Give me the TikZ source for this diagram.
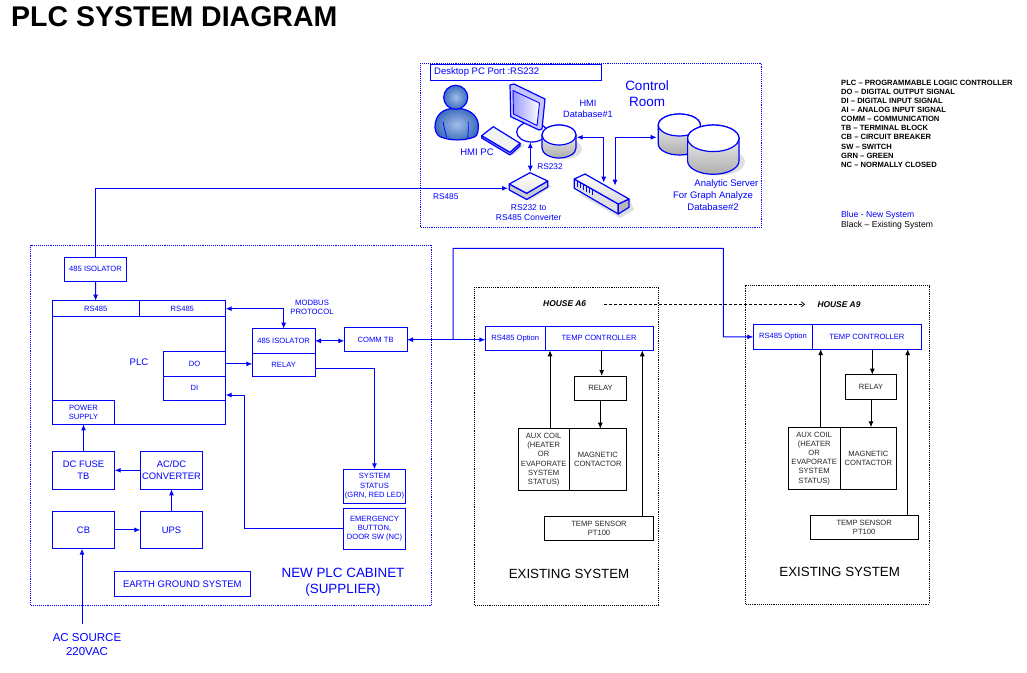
\documentclass[tikz,border=0pt]{standalone}
\usepackage{fontspec}
\setmainfont{Liberation Sans}
\usetikzlibrary{arrows.meta,calc}
\newcommand{\fs}[2]{\fontsize{#1}{#2}\selectfont}
\definecolor{personedge}{RGB}{62,108,190}
\definecolor{personmid}{RGB}{160,190,230}
\tikzset{
  bluebox/.style={draw=blue,line width=1pt,text=blue,inner sep=0pt,outer sep=0pt,align=center,font=\fs{7.6}{9.2}},
  blackbox/.style={draw=black,line width=1pt,text=black!85,inner sep=0pt,outer sep=0pt,align=center,font=\fs{7.6}{9.2}},
  bigtext/.style={font=\fs{9.4}{11.5}},
  bluelab/.style={text=blue,inner sep=0pt,align=center,font=\fs{8}{9.5}},
  blacklab/.style={text=black,inner sep=0pt,align=center},
  legendlab/.style={text=black,inner sep=0pt,anchor=west,font=\fs{7.6}{9}\bfseries},
  blueline/.style={draw=blue,line width=1pt},
  blackline/.style={draw=black,line width=1pt},
  tip/.style={-{Latex[length=6pt,width=5pt]}},
  tips/.style={{Latex[length=6pt,width=5pt]}-{Latex[length=6pt,width=5pt]}},
  dotframe/.style={densely dotted,line width=.9pt},
  iconline/.style={draw=blue,line width=1.2pt,line join=round},
  shadowfill/.style={fill=black!12,draw=none},
  greyface/.style={iconline,top color=white,bottom color=black!32},
}
% box from corners: style, name, x1, y1, x2, y2, text
\newcommand{\mybox}[7][bluebox]{%
  \pgfmathsetmacro{\mycx}{(#3+#5)/2}\pgfmathsetmacro{\mycy}{(#4+#6)/2}%
  \pgfmathsetmacro{\myw}{#5-#3}\pgfmathsetmacro{\myh}{#6-#4}%
  \node[#1,minimum width=\myw pt,minimum height=\myh pt] (#2) at (\mycx,\mycy) {#7};}
% cylinder: cx, top y, rx, ry, height
\newcommand{\mycyl}[5]{%
  \pgfmathsetmacro{\myl}{#1-#3}\pgfmathsetmacro{\myr}{#1+#3}\pgfmathsetmacro{\myb}{#2+#5}%
  \path[shadowfill] (#1+6,\myb+1) ellipse [x radius=#3 pt,y radius=#4 pt];
  \path[greyface] (\myl,#2) -- (\myl,\myb) arc[start angle=180,end angle=360,x radius=#3 pt,y radius=#4 pt] -- (\myr,#2) arc[start angle=0,end angle=180,x radius=#3 pt,y radius=#4 pt] -- cycle;
  \path[iconline,fill=white] (#1,#2) ellipse [x radius=#3 pt,y radius=#4 pt];}
\begin{document}
\begin{tikzpicture}[x=1pt,y=-1pt]
\useasboundingbox (0,0) rectangle (1027,672);
\fill[white] (0,0) rectangle (1027,672);

% title
\node[inner sep=0pt,anchor=west,font=\fs{28.5}{32}\bfseries] (title) at (11,17) {PLC SYSTEM DIAGRAM};

% legend
\node[legendlab] (l1) at (841,83.3) {PLC – PROGRAMMABLE LOGIC CONTROLLER};
\node[legendlab] (l2) at (841,92.3) {DO – DIGITAL OUTPUT SIGNAL};
\node[legendlab] (l3) at (841,101.3) {DI – DIGITAL INPUT SIGNAL};
\node[legendlab] (l4) at (841,110.3) {AI – ANALOG INPUT SIGNAL};
\node[legendlab] (l5) at (841,119.3) {COMM – COMMUNICATION};
\node[legendlab] (l6) at (841,128.3) {TB – TERMINAL BLOCK};
\node[legendlab] (l7) at (841,137.3) {CB – CIRCUIT BREAKER};
\node[legendlab] (l8) at (841,147) {SW – SWITCH};
\node[legendlab] (l9) at (841,156.3) {GRN – GREEN};
\node[legendlab] (l10) at (841,165) {NC – NORMALLY CLOSED};
\node[bluelab,anchor=west,font=\fs{8.6}{9}] (l11) at (841,215) {Blue - New System};
\node[blacklab,anchor=west,font=\fs{8.6}{9}] (l12) at (841,225) {Black – Existing System};

% control room
\draw[blue,dotframe] (420,63) rectangle (761.7,227.3);
\mybox{desk}{430}{64.3}{601.7}{80.3}{}
\node[bluelab,anchor=west,font=\fs{9.5}{11}] (desklab) at (434,72.3) {Desktop PC Port :RS232};
\node[bluelab,font=\fs{13.5}{16}] (ctrl) at (647,93.7) {Control\\Room};
\node[bluelab,font=\fs{9.2}{11}] (hmidb) at (588,109.2) {HMI\\Database\#1};
\node[bluelab,font=\fs{9.5}{11.5},anchor=east] (an1) at (758.5,183.7) {Analytic Server};
\node[bluelab,font=\fs{9.5}{11.5}] (an2) at (713,201) {For Graph Analyze\\Database\#2};
\node[bluelab,font=\fs{9.5}{10}] (hmipc) at (477,152.3) {HMI PC};
\node[bluelab,font=\fs{8.3}{10}] (rs232) at (550,167) {RS232};
\node[bluelab,font=\fs{8.3}{10}] (rs485) at (445.7,197) {RS485};
\node[bluelab,font=\fs{8.5}{10}] (convlab) at (528.7,213) {RS232 to\\RS485 Converter};

% person
\path[iconline,inner color=personmid,outer color=personedge] (455.7,108.3) .. controls (443,108) and (435,115) .. (435,127) .. controls (435,131) and (437,135) .. (440,136.7) .. controls (450,141) and (465,141) .. (475,136.7) .. controls (478,135) and (478.3,130) .. (478.3,125) .. controls (478,115) and (468,108) .. (455.7,108.3) -- cycle;
\draw[blue,line width=.7pt] (443,121.7) .. controls (444,127) and (445,132) .. (446.7,137.3);
\draw[blue,line width=.7pt] (468.3,121.7) .. controls (468.5,127) and (468.3,132) .. (467.7,137.8);
\path[iconline,inner color=personmid,outer color=personedge] (455.7,97.3) circle [radius=12pt];

% keyboard
\path[shadowfill] (486,138) -- (497,129) -- (525,145) -- (513,155) -- cycle;
\path[iconline,fill=blue!35!white] (481.7,135.7) -- (481.7,138) -- (510,155) -- (520,146) -- (520,143.3) -- (510,152.3) -- cycle;
\path[iconline,fill=black!5] (493.3,126.7) -- (520,143.3) -- (510,152.3) -- (481.7,135.7) -- cycle;

% monitor base and monitor
\path[iconline,fill=white] (531.7,132) ellipse [x radius=15pt,y radius=10pt];
\path[iconline,fill=blue!22!white] (510,85) -- (514,84) -- (545,99) -- (542,129) -- (539,130) -- (510.7,116.7) -- cycle;
\path[draw=blue,line width=.9pt,left color=blue!40!white,right color=white] (513,90.5) -- (539.5,103) -- (537,125.5) -- (513.5,114) -- cycle;
\coordinate (monbase) at (530.3,142);

% databases
\mycyl{559}{135}{17}{10}{13}
\mycyl{679.3}{125}{21}{11}{19}
\mycyl{713.3}{138.3}{25.7}{13.3}{22.7}
\coordinate (db1port) at (576.7,137.3);
\coordinate (db2port) at (656.7,137.3);

% converter
\path[shadowfill] (515,192) -- (535,178) -- (552,186) -- (530,201) -- cycle;
\path[iconline,fill=black!20] (509.3,184) -- (509.3,190) -- (526.7,199.5) -- (547.7,187) -- (547.7,181) -- (526.7,193.3) -- cycle;
\path[iconline,top color=white,bottom color=black!10] (530,172.7) -- (547.7,181) -- (526.7,193.3) -- (509.3,184) -- cycle;
\coordinate (convtop) at (530.3,171.7);
\coordinate (convport) at (508,188.3);

% switch
\path[shadowfill] (580,195) -- (620,218) -- (634,210) -- (630,200) -- (590,180) -- cycle;
\path[iconline,fill=black!12] (574.3,179) -- (574.3,188.3) -- (618.3,214) -- (618.3,204) -- cycle;
\path[iconline,fill=black!28] (618.3,204) -- (618.3,214) -- (629,207.3) -- (629,199) -- cycle;
\path[iconline,top color=white,bottom color=black!15] (585,174) -- (629,199) -- (618.3,204) -- (574.3,179) -- cycle;
\draw[blue,line width=.8pt] (577,181.5) -- (577,186.5) (580,183.2) -- (580,188.2) (583,185) -- (583,190) (586,186.7) -- (586,191.7) (589,188.4) -- (589,193.4) (592,190) -- (592,195);
\coordinate (swa) at (603.7,182.7);
\coordinate (swb) at (615,185.7);
\coordinate (bendsa) at (603.7,137.3);
\coordinate (bendsb) at (615,137.3);

% control-room links
\draw[blueline,tips] (monbase) -- (convtop);
\draw[blueline,tips] (swa) -- (bendsa) -- (db1port);
\draw[blueline,tips] (swb) -- (bendsb) -- (db2port);

% PLC cabinet
\draw[blue,dotframe] (30.7,245) rectangle (431.7,605.3);
\mybox{iso1}{64.3}{257.3}{126.7}{281.3}{485 ISOLATOR}
\mybox{plc}{52.3}{300.7}{225.7}{424.3}{}
\node[bluelab,font=\fs{9.6}{11}] (plclab) at (139,362.3) {PLC};
\mybox{rsa}{52.3}{300.7}{139}{316.7}{RS485}
\mybox{rsb}{139}{300.7}{225.7}{316.7}{RS485}
\mybox{do}{163.3}{351.7}{225.7}{376}{DO}
\mybox{di}{163.3}{376}{225.7}{400.3}{DI}
\mybox{psu}{52.3}{400.3}{114.7}{424.3}{POWER\\SUPPLY}
\mybox{iso2}{252.3}{328.7}{315}{353}{485 ISOLATOR}
\mybox{relay}{252.3}{353}{315}{376}{RELAY}
\mybox{comm}{344.3}{327.7}{407}{351.7}{COMM TB}
\node[bluelab,font=\fs{7.7}{9}] (modbus) at (312,307.5) {MODBUS\\PROTOCOL};
\mybox[bluebox,bigtext]{fuse}{52.3}{451.3}{114.7}{489.3}{DC FUSE\\TB}
\mybox[bluebox,bigtext]{acdc}{140.3}{451.3}{202.7}{489.3}{AC/DC\\CONVERTER}
\mybox[bluebox,bigtext]{cb}{52.3}{511}{114.7}{548.7}{CB}
\mybox[bluebox,bigtext]{ups}{140.3}{511}{202.7}{548.7}{UPS}
\mybox[bluebox,font=\fs{9.5}{11.5}]{earth}{114.7}{571.7}{250}{596}{EARTH GROUND SYSTEM}
\mybox{status}{343.3}{469.3}{405.7}{503}{SYSTEM\\STATUS\\(GRN, RED LED)}
\mybox{emerg}{343.3}{508.3}{405.7}{549}{EMERGENCY\\BUTTON,\\DOOR SW (NC)}
\node[bluelab,font=\fs{13.4}{16}] (newplc) at (343,582) {NEW PLC CABINET\\(SUPPLIER)};
\node[bluelab,font=\fs{11.5}{14}] (acsrc) at (87,645) {AC SOURCE\\220VAC};
\coordinate (acstart) at (82,624);
\coordinate (dibend) at (244.3,395);
\coordinate (diport) at (225.7,395);

\draw[blueline,tip] (iso1.north) |- (convport);
\draw[blueline,tip] (iso1.south) -- (rsa.north);
\draw[blueline,tips] (iso2.north) |- (rsb.east);
\draw[blueline,tips] (iso2.east) -- (iso2.east -| comm.west);
\draw[blueline,tip] (do.east) -- (do.east -| relay.west);
\draw[blueline,tip] (relay.east |- 0,368.3) -| (status.north);
\draw[blueline,tip] (emerg.west) -| (dibend) -- (diport);
\draw[blueline,tip] (fuse.north) -- (psu.south);
\draw[blueline,tip] (acdc.west) -- (fuse.east);
\draw[blueline,tip] (ups.north) -- (acdc.south);
\draw[blueline,tip] (cb.east) -- (ups.west);
\draw[blueline,tip] (acstart) -- (acstart |- cb.south);

% house A6
\draw[black,dotframe] (474.3,287) rectangle (658.7,605.3);
\node[blacklab,font=\fs{8.4}{10}\bfseries\itshape] (h6) at (564.7,303.7) {HOUSE A6};
\mybox{opt6}{485.3}{326}{545}{350.3}{RS485 Option}
\mybox{tc6}{545}{326}{653.3}{350.3}{TEMP CONTROLLER}
\mybox[blackbox]{rel6}{574.7}{376}{626.3}{400.3}{RELAY}
\mybox[blackbox]{aux6}{518}{428.7}{569.3}{490.7}{AUX COIL\\(HEATER\\OR\\EVAPORATE\\SYSTEM\\STATUS)}
\mybox[blackbox]{mag6}{569.3}{428.7}{626.3}{490.7}{MAGNETIC\\CONTACTOR}
\mybox[blackbox]{sen6}{544.7}{516.7}{653.3}{540.3}{TEMP SENSOR\\PT100}
\node[blacklab,font=\fs{13.3}{15}] (ex6) at (569,574.3) {EXISTING SYSTEM};
\draw[blackline,tip] (550,428.7) -- (550,350.3);
\draw[blackline,tip] (601.7,350.3) -- (601.7,376);
\draw[blackline,tip] (600.3,400.3) -- (600.3,428.7);
\draw[blackline,tip] (642.3,516.7) -- (642.3,350.3);

% house A9
\draw[black,dotframe] (745,285.7) rectangle (929.3,604);
\node[blacklab,font=\fs{8.4}{10}\bfseries\itshape] (h9) at (839,305) {HOUSE A9};
\mybox{opt9}{753.3}{324.7}{812.7}{349}{RS485 Option}
\mybox{tc9}{812.7}{324.7}{921}{349}{TEMP CONTROLLER}
\mybox[blackbox]{rel9}{845.3}{374.7}{896.7}{399.3}{RELAY}
\mybox[blackbox]{aux9}{788.3}{427.3}{840}{489.3}{AUX COIL\\(HEATER\\OR\\EVAPORATE\\SYSTEM\\STATUS)}
\mybox[blackbox]{mag9}{840}{427.3}{896.7}{489.3}{MAGNETIC\\CONTACTOR}
\mybox[blackbox]{sen9}{810}{515}{918.3}{539.3}{TEMP SENSOR\\PT100}
\node[blacklab,font=\fs{13.3}{15}] (ex9) at (839.7,572) {EXISTING SYSTEM};
\draw[blackline,tip] (820.7,427.3) -- (820.7,349);
\draw[blackline,tip] (872.3,349) -- (872.3,374.7);
\draw[blackline,tip] (871,399.3) -- (871,427.3);
\draw[blackline,tip] (907.7,515) -- (907.7,349);

% links between systems
\coordinate (h6end) at (604.3,304.3);
\coordinate (h9end) at (805,304.3);
\draw[blackline,densely dashed,line width=.8pt,-{Straight Barb[length=3pt,width=5pt]}] (h6end) -- (h9end);
\coordinate (junc) at (453,339.7);
\coordinate (bendup) at (453,248.3);
\coordinate (benddn) at (723.3,336.85);
\draw[blueline,tips] (comm.east) -- (comm.east -| opt6.west);
\draw[blueline,tip] (junc) -- (bendup) -| (benddn) -- (opt9.west);
\end{tikzpicture}
\end{document}
